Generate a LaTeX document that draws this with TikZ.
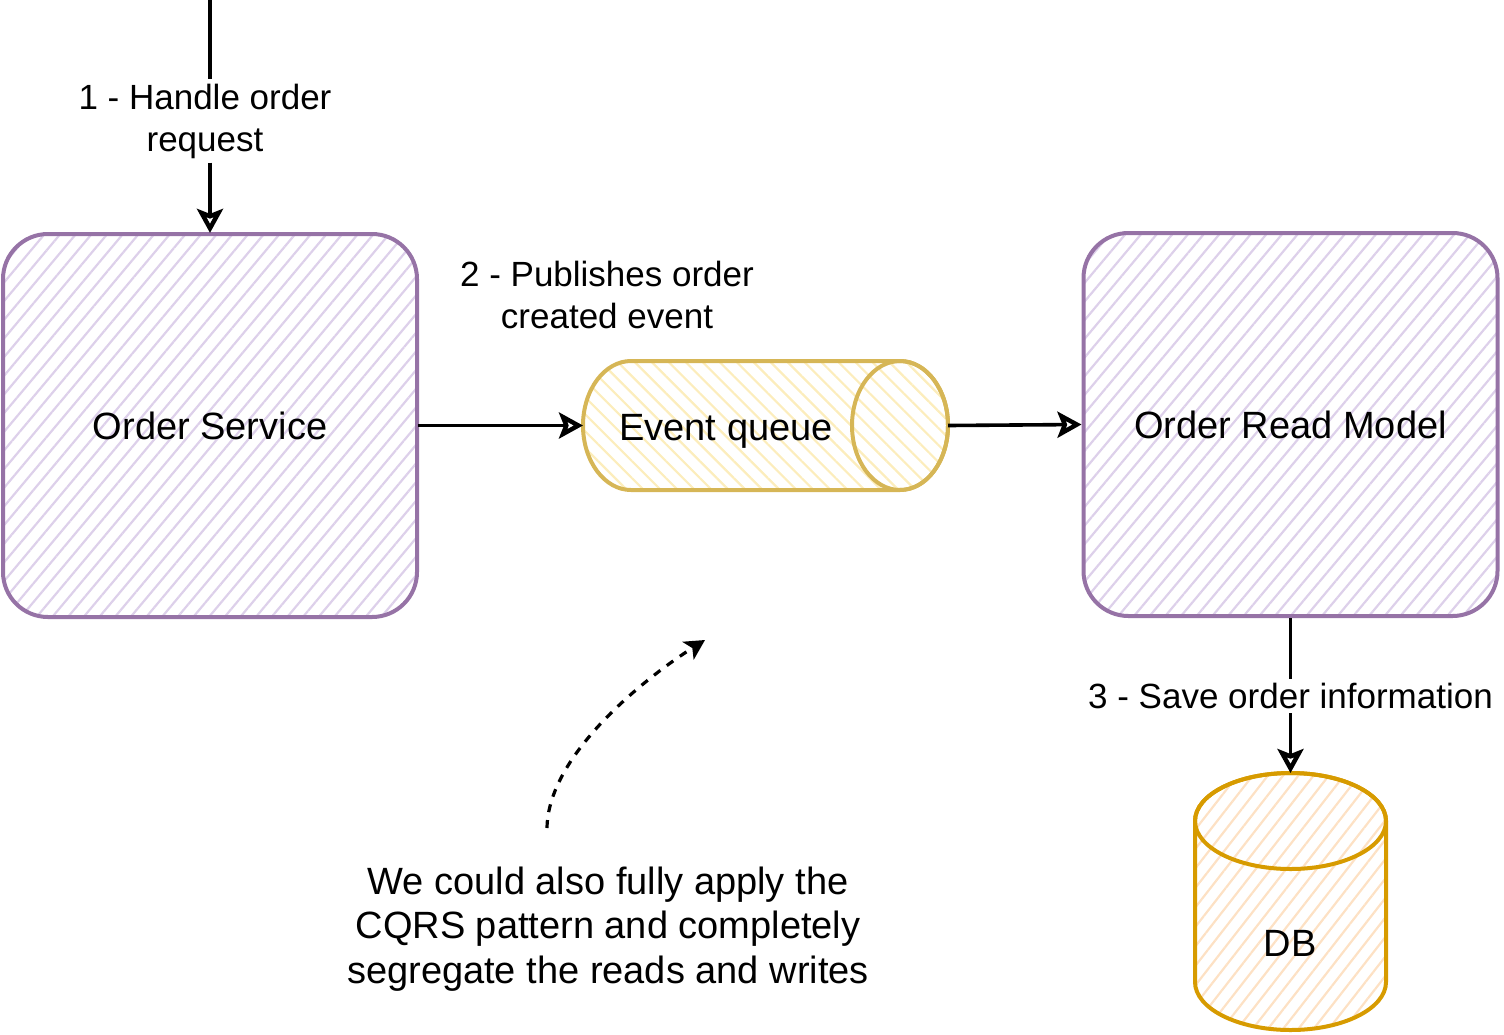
\documentclass[tikz,border=0pt]{standalone}
\usepackage{fontspec}
\setmainfont{Liberation Sans}
\usetikzlibrary{arrows.meta,patterns.meta}
\definecolor{pstroke}{HTML}{9673A6}
\definecolor{phatch}{HTML}{DDD0EA}
\definecolor{ystroke}{HTML}{D6B656}
\definecolor{yhatch}{HTML}{FCEDBC}
\definecolor{ostroke}{HTML}{D79B00}
\definecolor{ohatch}{HTML}{FDE1C4}
\begin{document}
\begin{tikzpicture}[x=0.5pt,y=-0.5pt,
  boxfont/.style={font=\fontsize{19}{22.8}\selectfont},
  lblfont/.style={font=\fontsize{17.5}{21}\selectfont},
  svcbox/.style={draw=pstroke, line width=2pt, rounded corners=22.5pt,
    pattern={Lines[angle=50,distance=6pt,line width=1.1pt]}, pattern color=phatch,
    minimum width=207pt, minimum height=191.5pt, boxfont},
  anchorbox/.style={inner sep=0pt, outer sep=0pt},
  queueshape/.style={draw=ystroke, line width=2pt,
    pattern={Lines[angle=-45,distance=6pt,line width=1.1pt]}, pattern color=yhatch},
  dbshape/.style={draw=ostroke, line width=2pt,
    pattern={Lines[angle=52,distance=6pt,line width=1.1pt]}, pattern color=ohatch},
  lbl/.style={align=center, inner sep=2pt, lblfont},
  conn/.style={line width=1.8pt},
  arr/.style={conn, -{Stealth[open, length=12pt, width=13pt, inset=2.5pt, line width=2.2pt]}},
  dsh/.style={line width=1.6pt, dash pattern=on 4pt off 4pt, -{Stealth[length=10pt, width=10.5pt, inset=2.5pt]}}
]
\useasboundingbox (0,0) rectangle (1504,1034);

% Order Service
\node[svcbox] (os) at (210,425.5) {Order Service};
% Order Read Model
\node[svcbox] (orm) at (1290.5,424.5) {Order Read Model};

% Event queue (horizontal cylinder)
\node[anchorbox, minimum width=182.5pt, minimum height=64.5pt] (eq) at (765.5,425.5) {};
\path[queueshape] (631,361) arc[start angle=270, end angle=90, x radius=48, y radius=64.5]
  -- (900,490) arc[start angle=90, end angle=-90, x radius=48, y radius=64.5] -- cycle;
\draw[ystroke, line width=2pt] (900,425.5) ellipse[x radius=48, y radius=64.5];
\node[boxfont] (eqt) at (726,431) {Event queue};

% DB (vertical cylinder)
\node[anchorbox, minimum width=95.5pt, minimum height=128.5pt] (db) at (1290.5,901.5) {};
\path[dbshape] (1195,821) -- (1195,982) arc[start angle=180, end angle=0, x radius=95.5, y radius=48]
  -- (1386,821) arc[start angle=0, end angle=-180, x radius=95.5, y radius=48] -- cycle;
\draw[ostroke, line width=2pt] (1290.5,821) ellipse[x radius=95.5, y radius=48];
\node[boxfont] (dbt) at (1290,943) {DB};

% labels
\node[lbl] (l1) at (205,121) {1 - Handle order\\request};
\node[lbl] (l2) at (607,295) {2 - Publishes order\\created event};
\node[lbl] (l3) at (1290.5,696) {3 - Save order information};

% connectors
\coordinate (in) at (210,0);
\draw[conn] (in) -- (in |- l1.north);
\draw[arr] (os.north |- l1.south) -- (os.north);
\draw[arr] (os.east) -- (eq.west);
\draw[arr] (eq.east) -- (orm.west);
\draw[conn] (orm.south) -- (orm.south |- l3.north);
\draw[arr] (db.north |- l3.south) -- (db.north);

% note and dashed curve
\node[align=center, font=\fontsize{19}{22.3}\selectfont] (note) at (608,929)
  {We could also fully apply the\\CQRS pattern and completely\\segregate the reads and writes};
\coordinate (cs) at (547,828);
\coordinate (ce) at (705,640);
\draw[dsh] (cs) .. controls (548,755) and (645,678) .. (ce);
\end{tikzpicture}
\end{document}
